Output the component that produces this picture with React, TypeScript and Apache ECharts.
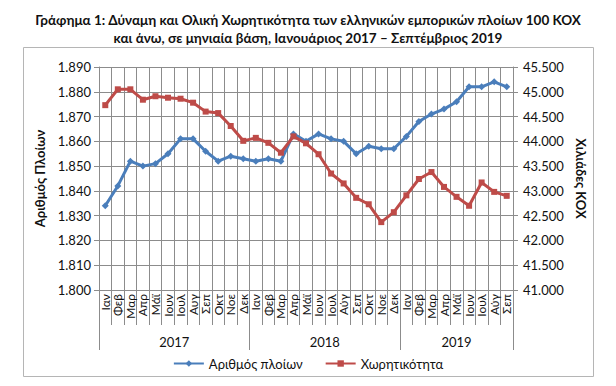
import React, { useEffect, useRef } from "react";
import * as echarts from "echarts";

const months2017 = ["Ιαν", "Φεβ", "Μαρ", "Απρ", "Μάϊ", "Ιουν", "Ιουλ", "Αυγ", "Σεπ", "Οκτ", "Νοε", "Δεκ"];
const months2018 = ["Ιαν", "Φεβ", "Μαρ", "Απρ", "Μάϊ", "Ιουν", "Ιουλ", "Αύγ", "Σεπ", "Οκτ", "Νοε", "Δεκ"];
const months2019 = ["Ιαν", "Φεβ", "Μαρ", "Απρ", "Μάϊ", "Ιουν", "Ιουλ", "Αύγ", "Σεπ"];
const years = ["2017", "2018", "2019"];

const ships = [
  1834, 1842, 1852, 1850, 1851, 1855, 1861, 1861, 1856, 1852, 1854, 1853,
  1852, 1853, 1852, 1863, 1860, 1863, 1861, 1860, 1855, 1858, 1857, 1857,
  1862, 1868, 1871, 1873, 1876, 1882, 1882, 1884, 1882,
];
const capacity = [
  44730, 45050, 45050, 44840, 44910, 44880, 44860, 44780, 44600, 44570, 44310, 44010,
  44070, 43970, 43770, 44100, 43960, 43740, 43350, 43150, 42860, 42730, 42370, 42570,
  42910, 43240, 43380, 43080, 42880, 42700, 43170, 42980, 42900,
];

const seriesNames = ["Αριθμός πλοίων", "Χωρητικότητα"];
const titleLines = [
  "Γράφημα 1: Δύναμη και Ολική Χωρητικότητα των ελληνικών εμπορικών πλοίων 100 ΚΟΧ",
  "και άνω, σε μηνιαία βάση, Ιανουάριος 2017 – Σεπτέμβριος 2019",
];
const leftAxisName = "Αριθμός Πλοίων";
const rightAxisName = "Χιλιάδες ΚΟΧ";

const FONT = "Lato, 'Noto Sans', sans-serif";
const GRID_COLOR = "#8c8c8c";

function fmtThousands(v: number): string {
  const s = String(Math.round(v));
  return s.replace(/\B(?=(\d{3})+(?!\d))/g, ".");
}

export default function App() {
  const ref = useRef<HTMLDivElement>(null);
  useEffect(() => {
    document.body.style.margin = "0";
    if (!ref.current) return;
    const chart = echarts.init(ref.current, undefined, { renderer: "svg" });

    const monthCats = [...months2017, ...months2018, ...months2019];
    const yearCounts = [months2017.length, months2018.length, months2019.length];
    const total = monthCats.length;
    // half-category slots: positions k/2 for k = 0..2*total
    const yearAxisData: string[] = [];
    for (let k = 0; k <= 2 * total; k++) yearAxisData.push("");
    const boundaries: number[] = [0];
    const labelIdx: number[] = [];
    let acc = 0;
    yearCounts.forEach((c, i) => {
      const center = acc + c / 2;
      const k = Math.round(center * 2);
      yearAxisData[k] = years[i];
      labelIdx.push(k);
      acc += c;
      boundaries.push(acc * 2);
    });

    chart.setOption({
      animation: false,
      textStyle: { fontFamily: FONT },
      title: {
        text: titleLines.join("\n"),
        left: "center",
        top: 6,
        textStyle: { fontSize: 13.5, fontWeight: "bold", color: "#111", lineHeight: 18, fontFamily: FONT },
      },
      graphic: [
        {
          type: "rect",
          shape: { x: 23.5, y: 47.5, width: 570, height: 329 },
          style: { fill: "none", stroke: "#b5b5b5", lineWidth: 1 },
          silent: true,
        },
      ],
      legend: {
        data: [
          { name: seriesNames[0] },
          { name: seriesNames[1] },
        ],
        top: 352,
        left: "center",
        itemWidth: 30,
        itemHeight: 8,
        itemGap: 22,
        textStyle: { fontSize: 13, color: "#111", fontFamily: FONT },
      },
      grid: { left: 99, right: 103, top: 67, bottom: 96 },
      xAxis: [
        {
          type: "category",
          data: monthCats,
          boundaryGap: true,
          axisLine: { lineStyle: { color: GRID_COLOR } },
          axisTick: { show: true, interval: 0, length: 35, lineStyle: { color: GRID_COLOR } },
          axisLabel: { interval: 0, rotate: 90, margin: 4, fontSize: 12, color: "#111", fontFamily: FONT },
          splitLine: { show: true, interval: 0, lineStyle: { color: GRID_COLOR } },
        },
        {
          type: "category",
          data: yearAxisData,
          boundaryGap: false,
          position: "bottom",
          axisLine: { show: false },
          axisTick: {
            show: true,
            interval: (index: number) => boundaries.includes(index),
            length: 60,
            lineStyle: { color: GRID_COLOR },
          },
          axisLabel: {
            interval: (index: number) => labelIdx.includes(index),
            margin: 45,
            fontSize: 13,
            color: "#111",
            fontFamily: FONT,
          },
          splitLine: { show: false },
        },
      ],
      yAxis: [
        {
          type: "value",
          min: 1800,
          max: 1890,
          interval: 10,
          position: "left",
          name: leftAxisName,
          nameLocation: "middle",
          nameRotate: 90,
          nameGap: 48,
          nameTextStyle: { fontSize: 13, fontWeight: "bold", color: "#111", fontFamily: FONT },
          axisLine: { show: true, lineStyle: { color: GRID_COLOR } },
          axisTick: { show: true, length: 5, lineStyle: { color: GRID_COLOR } },
          axisLabel: { formatter: fmtThousands, fontSize: 13, color: "#111", margin: 8, fontFamily: FONT },
          splitLine: { show: true, lineStyle: { color: GRID_COLOR } },
        },
        {
          type: "value",
          min: 41000,
          max: 45500,
          interval: 500,
          position: "right",
          name: rightAxisName,
          nameLocation: "middle",
          nameRotate: -90,
          nameGap: 58,
          nameTextStyle: { fontSize: 13, fontWeight: "bold", color: "#111", fontFamily: FONT },
          axisLine: { show: true, lineStyle: { color: GRID_COLOR } },
          axisTick: { show: true, length: 5, lineStyle: { color: GRID_COLOR } },
          axisLabel: { formatter: fmtThousands, fontSize: 13, color: "#111", margin: 10, fontFamily: FONT },
          splitLine: { show: false },
        },
      ],
      series: [
        {
          name: seriesNames[0],
          type: "line",
          xAxisIndex: 0,
          yAxisIndex: 0,
          data: ships,
          symbol: "diamond",
          symbolSize: 7,
          lineStyle: { width: 3, color: "#4a7ebb" },
          itemStyle: { color: "#4a7ebb" },
        },
        {
          name: seriesNames[1],
          type: "line",
          xAxisIndex: 0,
          yAxisIndex: 1,
          data: capacity,
          symbol: "rect",
          symbolSize: 6,
          lineStyle: { width: 3, color: "#be4b48" },
          itemStyle: { color: "#be4b48" },
        },
      ],
    });
    return () => chart.dispose();
  }, []);
  return <div ref={ref} style={{ width: 616, height: 386, background: "#fff" }} />;
}
